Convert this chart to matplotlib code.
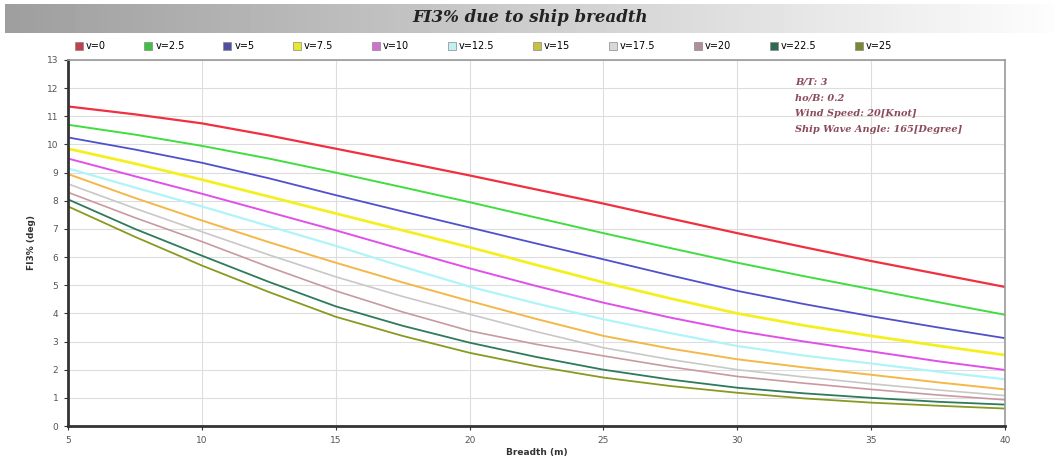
import matplotlib
matplotlib.use("Agg")
import matplotlib.pyplot as plt
import numpy as np
from matplotlib.lines import Line2D

breadth = [5, 7.5, 10, 12.5, 15, 17.5, 20, 22.5, 25, 27.5, 30, 32.5, 35, 37.5, 40]
labels = ["v=0", "v=2.5", "v=5", "v=7.5", "v=10", "v=12.5", "v=15", "v=17.5", "v=20", "v=22.5", "v=25"]
v0    = [11.35, 11.07, 10.75, 10.32, 9.85, 9.38, 8.90, 8.40, 7.90, 7.37, 6.85, 6.35, 5.86, 5.40, 4.94]
v2_5  = [10.70, 10.35, 9.95, 9.50, 9.00, 8.48, 7.95, 7.40, 6.85, 6.32, 5.80, 5.32, 4.86, 4.40, 3.95]
v5    = [10.25, 9.82, 9.35, 8.80, 8.20, 7.62, 7.05, 6.48, 5.92, 5.35, 4.80, 4.33, 3.90, 3.50, 3.12]
v7_5  = [9.85, 9.32, 8.75, 8.15, 7.55, 6.95, 6.35, 5.72, 5.10, 4.53, 4.00, 3.57, 3.20, 2.85, 2.52]
v10   = [9.50, 8.87, 8.25, 7.60, 6.95, 6.27, 5.60, 4.97, 4.38, 3.85, 3.38, 3.00, 2.65, 2.30, 1.99]
v12_5 = [9.15, 8.47, 7.80, 7.10, 6.40, 5.66, 4.95, 4.35, 3.79, 3.30, 2.84, 2.50, 2.22, 1.93, 1.66]
v15   = [8.95, 8.10, 7.30, 6.53, 5.80, 5.10, 4.44, 3.80, 3.20, 2.75, 2.37, 2.08, 1.82, 1.55, 1.30]
v17_5 = [8.60, 7.73, 6.90, 6.08, 5.30, 4.60, 3.97, 3.35, 2.78, 2.36, 2.00, 1.74, 1.50, 1.28, 1.08]
v20   = [8.30, 7.40, 6.55, 5.65, 4.80, 4.05, 3.38, 2.90, 2.49, 2.10, 1.76, 1.52, 1.30, 1.10, 0.93]
v22_5 = [8.05, 7.00, 6.05, 5.12, 4.25, 3.56, 2.96, 2.45, 2.00, 1.65, 1.36, 1.16, 1.00, 0.86, 0.76]
v25   = [7.80, 6.72, 5.70, 4.76, 3.88, 3.20, 2.60, 2.12, 1.72, 1.42, 1.18, 0.98, 0.83, 0.72, 0.62]
series = [v0, v2_5, v5, v7_5, v10, v12_5, v15, v17_5, v20, v22_5, v25]
colors = ["#f03040", "#40dd40", "#5050cc", "#f4f020", "#e050e8", "#b0f4f8",
          "#f4b848", "#c8c8c8", "#c89aa0", "#2e7a5c", "#8a9a20"]
legend_colors = ["#c04050", "#40c040", "#5050a0", "#e8e830", "#d070d0", "#c0f0f0",
                 "#c8c040", "#d8d8d8", "#b09098", "#306850", "#788a30"]
widths = [1.6, 1.4, 1.3, 2.0, 1.4, 1.6, 1.4, 1.2, 1.2, 1.3, 1.3]
notes = ["B/T: 3", "ho/B: 0.2", "Wind Speed: 20[Knot]", "Ship Wave Angle: 165[Degree]"]

W, H = 1054, 462
fig = plt.figure(figsize=(W / 100, H / 100), dpi=100)
fig.patch.set_facecolor("white")

# title banner
bax = fig.add_axes([5 / W, (H - 33) / H, 1 - 5 / W, 29 / H])
grad = np.linspace(0.62, 0.99, 256).reshape(1, -1)
grad = np.vstack([grad, grad])
bax.imshow(grad, aspect="auto", cmap="gray", vmin=0, vmax=1, extent=[0, 1, 0, 1])
bax.axis("off")
fig.text(530 / W, (H - 18) / H, "FI3% due to ship breadth", ha="center", va="center",
         fontsize=12, fontweight="bold", fontstyle="italic", family="DejaVu Serif", color="#222222")

ax = fig.add_axes([68 / W, (H - 426) / H, (1005 - 68) / W, (426 - 60) / H])
for s, c, lw in zip(series, colors, widths):
    ax.plot(breadth, s, color=c, lw=lw, solid_capstyle="round", solid_joinstyle="round")

handles = [Line2D([], [], marker="s", ls="none", markersize=6, markerfacecolor=c,
                  markeredgecolor="#888888", markeredgewidth=0.5, label=lab)
           for c, lab in zip(legend_colors, labels)]
fig.legend(handles=handles, loc="center left", bbox_to_anchor=(74 / W, (H - 46) / H), ncol=11,
           frameon=False, fontsize=7, handletextpad=0.2, columnspacing=3.9, handlelength=1.0,
           borderaxespad=0, borderpad=0)

ax.set_xlim(5, 40)
ax.set_ylim(0, 13)
ax.set_xticks([5, 10, 15, 20, 25, 30, 35, 40])
ax.set_yticks(range(0, 14))
ax.grid(True, color="#dddddd", lw=0.8)
ax.set_axisbelow(True)
for sp in ["left", "bottom"]:
    ax.spines[sp].set_color("#333333")
    ax.spines[sp].set_linewidth(2)
for sp in ["right", "top"]:
    ax.spines[sp].set_color("#999999")
    ax.spines[sp].set_linewidth(1.2)
ax.tick_params(labelsize=6.5, labelcolor="#555555", length=3, color="#333333", pad=4)
ax.set_xlabel("Breadth (m)", fontsize=6.5, fontweight="bold", color="#333333", labelpad=2)
ax.set_ylabel("FI3% (deg)", fontsize=6.5, fontweight="bold", color="#333333", labelpad=8)

for i, t in enumerate(notes):
    fig.text(795 / W, (H - 82 - 15.8 * i) / H, t, fontsize=7, fontstyle="italic", fontweight="bold",
             family="DejaVu Serif", color="#8b4a5a", va="center", ha="left")

fig.savefig("out.png", dpi=100)
